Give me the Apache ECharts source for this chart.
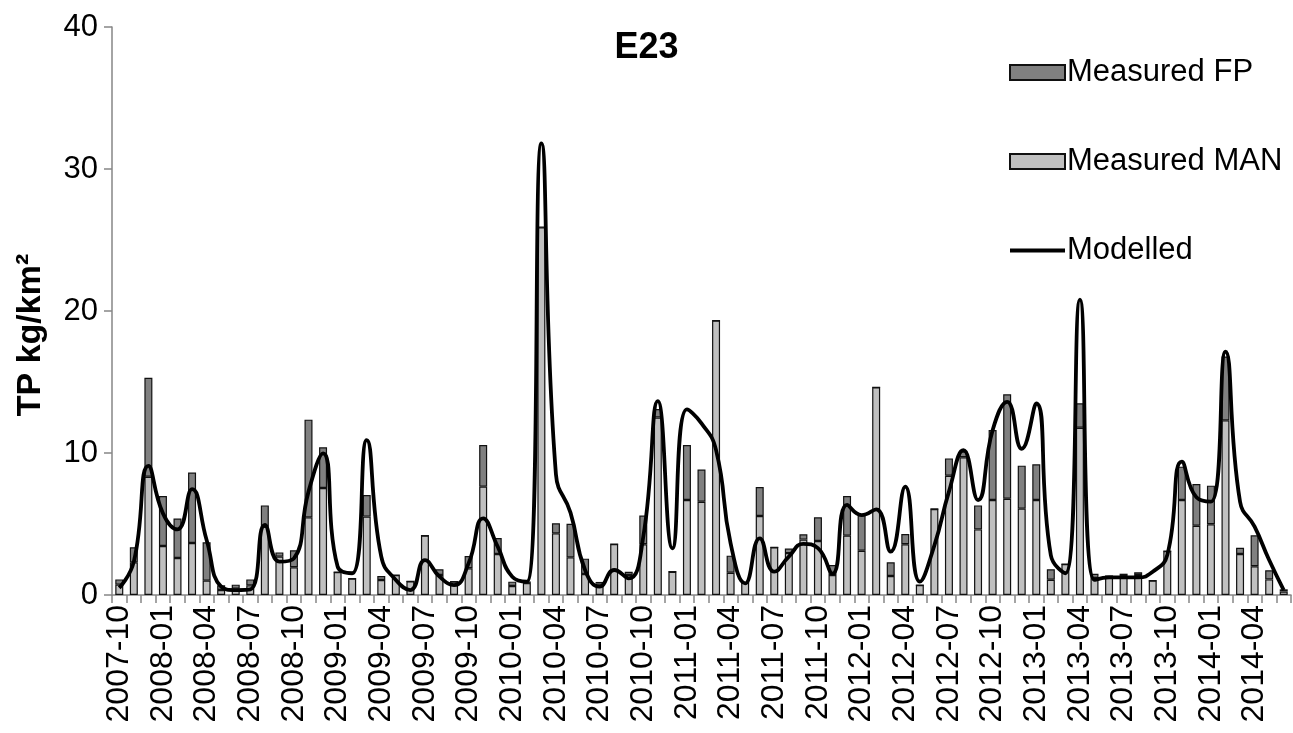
<!DOCTYPE html>
<html>
<head>
<meta charset="utf-8">
<title>E23</title>
<script src="https://cdn.jsdelivr.net/npm/echarts@6/dist/echarts.min.js"></script>
<style>
    html, body { margin: 0; padding: 0; background: #fff; }
    #chart { width: 1293px; height: 733px; }
</style>
</head>
<body>
<div id="chart"></div>
<script>
// monthly categories 2007-10 .. 2014-06
var months = [
    '2007-10', '2007-11', '2007-12',
    '2008-01', '2008-02', '2008-03', '2008-04', '2008-05', '2008-06',
    '2008-07', '2008-08', '2008-09', '2008-10', '2008-11', '2008-12',
    '2009-01', '2009-02', '2009-03', '2009-04', '2009-05', '2009-06',
    '2009-07', '2009-08', '2009-09', '2009-10', '2009-11', '2009-12',
    '2010-01', '2010-02', '2010-03', '2010-04', '2010-05', '2010-06',
    '2010-07', '2010-08', '2010-09', '2010-10', '2010-11', '2010-12',
    '2011-01', '2011-02', '2011-03', '2011-04', '2011-05', '2011-06',
    '2011-07', '2011-08', '2011-09', '2011-10', '2011-11', '2011-12',
    '2012-01', '2012-02', '2012-03', '2012-04', '2012-05', '2012-06',
    '2012-07', '2012-08', '2012-09', '2012-10', '2012-11', '2012-12',
    '2013-01', '2013-02', '2013-03', '2013-04', '2013-05', '2013-06',
    '2013-07', '2013-08', '2013-09', '2013-10', '2013-11', '2013-12',
    '2014-01', '2014-02', '2014-03', '2014-04', '2014-05', '2014-06'
];

// light part (bottom of the stack)
var measuredMAN = [
    0.73, 2.30, 8.33,
    3.45, 2.61, 3.66, 1.01, 0.35, 0.45,
    0.68, 4.80, 2.70, 1.95, 5.47, 7.54,
    1.62, 1.15, 5.52, 1.06, 1.41, 0.96,
    4.18, 1.41, 0.94, 1.88, 7.63, 2.89,
    0.63, 0.85, 25.9, 4.34, 2.65, 1.48,
    0.80, 3.59, 1.41, 3.57, 12.5, 1.64,
    6.69, 6.57, 19.32, 1.57, 0.87, 5.56,
    3.36, 2.95, 3.90, 3.80, 1.41, 4.18,
    3.12, 14.62, 1.34, 3.57, 0.70, 6.06,
    8.40, 9.70, 4.62, 6.69, 6.78, 6.08,
    6.69, 1.07, 2.18, 11.78, 1.20, 1.29,
    1.34, 1.41, 1.01, 3.10, 6.69, 4.88,
    4.98, 12.3, 2.89, 2.02, 1.10, 0.25
];

// dark part (top of the stack)
var measuredFP = [
    0.37, 1.06, 6.97,
    3.52, 2.77, 4.96, 2.70, 0.33, 0.28,
    0.42, 1.51, 0.30, 1.20, 6.88, 2.86,
    0, 0, 1.52, 0.28, 0, 0,
    0, 0.40, 0, 0.87, 2.93, 1.12,
    0.31, 0.10, 0, 0.71, 2.37, 1.08,
    0.12, 0, 0.23, 2.02, 0.60, 0,
    3.87, 2.26, 0, 1.20, 0, 2.05,
    0, 0.32, 0.37, 1.67, 0.70, 2.79,
    2.51, 0, 0.96, 0.73, 0, 0,
    1.22, 0.40, 1.69, 4.93, 7.35, 3.03,
    2.51, 0.74, 0, 1.72, 0.30, 0.09,
    0.16, 0.19, 0, 0, 2.35, 2.94,
    2.72, 4.50, 0.44, 2.18, 0.64, 0.15
];

var modelled = [
    0.50, 2.35, 9.10,
    5.75, 4.62, 7.45, 3.87, 0.59, 0.35,
    0.40, 4.93, 2.35, 2.58, 7.28, 9.98,
    2.00, 1.53, 10.9, 2.70, 1.06, 0.35,
    2.46, 1.29, 0.70, 2.23, 5.40, 3.40,
    1.29, 0.94, 31.8, 8.50, 5.80, 1.76,
    0.59, 1.76, 1.17, 4.10, 13.66, 3.29,
    13.07, 12.09, 10.2, 3.64, 0.82, 3.99,
    1.64, 2.70, 3.60, 3.30, 1.50, 6.34,
    5.63, 6.03, 3.05, 7.63, 0.94, 3.50,
    7.28, 10.2, 6.69, 11.6, 13.6, 10.3,
    13.5, 2.80, 1.53, 20.8, 1.06, 1.24,
    1.24, 1.24, 1.64, 2.82, 9.39, 6.88,
    6.57, 17.14, 6.57, 4.81, 2.46, 0.35
];

var yTicks = { min: 0, max: 40, step: 10 };

var FONT = '"Liberation Sans", Arial, sans-serif';
var AXIS_GREY = '#868686';
// plain line icon for the modelled series (tiny corner specks keep the box 55x15)
var LINE_ICON = 'path://M0,0L0.1,0L0.1,0.1L0,0.1ZM0,5.6L55,5.6L55,9.4L0,9.4ZM54.9,14.9L55,14.9L55,15L54.9,15Z';

var chart = echarts.init(document.getElementById('chart'));

chart.setOption({
    animation: false,
    backgroundColor: '#fff',
    textStyle: { fontFamily: FONT, color: '#000' },
    title: {
        text: 'E23',
        left: 'center',
        top: 25,
        textStyle: { fontFamily: FONT, fontSize: 36, fontWeight: 'bold', color: '#000' }
    },
    legend: {
        orient: 'vertical',
        left: 1004,
        top: 52,
        itemWidth: 55,
        itemHeight: 15,
        itemGap: 58,
        textStyle: { fontFamily: FONT, fontSize: 31, color: '#000', padding: [0, 0, 0, -3] },
        data: [
            { name: 'Measured FP', icon: 'rect' },
            { name: 'Measured MAN', icon: 'rect' },
            { name: 'Modelled', icon: LINE_ICON, itemStyle: { color: '#000', borderWidth: 0 } }
        ]
    },
    grid: {
        left: 112,
        right: 2,
        top: 27,
        bottom: 138
    },
    graphic: [{
        type: 'text',
        x: 31,
        y: 335,
        rotation: Math.PI / 2,
        style: {
            text: 'TP kg/km\u00b2',
            font: 'bold 34px "Liberation Sans", Arial, sans-serif',
            fill: '#000',
            align: 'center',
            verticalAlign: 'middle'
        }
    }],
    xAxis: {
        type: 'category',
        data: months,
        boundaryGap: true,
        axisLine: { lineStyle: { color: AXIS_GREY, width: 1.5 } },
        axisTick: { show: true, interval: 0, length: 8, lineStyle: { color: AXIS_GREY, width: 1.5 } },
        axisLabel: {
            interval: 2,
            rotate: 90,
            margin: 10,
            fontFamily: FONT,
            fontSize: 32,
            color: '#000'
        }
    },
    yAxis: {
        type: 'value',
        min: yTicks.min,
        max: yTicks.max,
        interval: yTicks.step,
        axisLine: { show: true, lineStyle: { color: AXIS_GREY, width: 1.5 } },
        axisTick: { show: true, length: 8, lineStyle: { color: AXIS_GREY, width: 1.5 } },
        axisLabel: { margin: 14, fontFamily: FONT, fontSize: 31, color: '#000' },
        splitLine: { show: false }
    },
    series: [
        {
            name: 'Measured MAN',
            type: 'bar',
            stack: 'measured',
            barWidth: 8,
            data: measuredMAN,
            itemStyle: { color: '#c0c0c0', borderColor: '#111', borderWidth: 1.2 }
        },
        {
            name: 'Measured FP',
            type: 'bar',
            stack: 'measured',
            barWidth: 8,
            data: measuredFP,
            itemStyle: { color: '#808080', borderColor: '#111', borderWidth: 1.2 }
        },
        {
            name: 'Modelled',
            type: 'line',
            data: modelled,
            smooth: 0.5,
            symbol: 'none',
            lineStyle: { color: '#000', width: 3.8 },
            itemStyle: { color: '#000' },
            z: 5
        }
    ]
});
</script>
</body>
</html>
